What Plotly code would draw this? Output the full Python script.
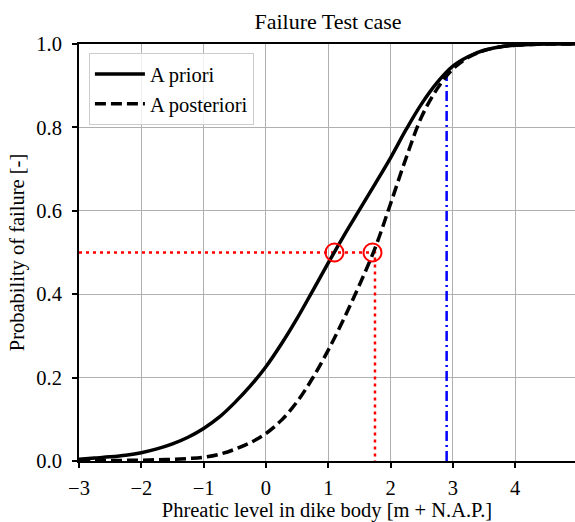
import plotly.graph_objects as go

# Phreatic level [m + N.A.P.]
x_levels = [-3.0, -2.75, -2.5, -2.25, -2.0, -1.75, -1.5, -1.25, -1.0, -0.75, -0.5, -0.25,
            0.0, 0.25, 0.5, 0.75, 1.0, 1.25, 1.5, 1.75, 2.0, 2.25, 2.5, 2.75, 3.0,
            3.25, 3.5, 3.75, 4.0, 4.25, 4.5, 4.75, 5.0]
# A priori probability of failure (solid)
p_priori = [0.004, 0.007, 0.010, 0.014, 0.020, 0.029, 0.041, 0.057, 0.078, 0.105, 0.140, 0.180,
            0.226, 0.281, 0.342, 0.408, 0.475, 0.540, 0.602, 0.664, 0.727, 0.795, 0.857, 0.908, 0.947,
            0.970, 0.985, 0.993, 0.997, 0.999, 1.0, 1.0, 1.0]
# A posteriori probability of failure (dashed)
p_posteriori = [0.0005, 0.0007, 0.001, 0.0015, 0.002, 0.003, 0.004, 0.006, 0.009, 0.016, 0.028, 0.044,
                0.066, 0.098, 0.142, 0.199, 0.266, 0.341, 0.422, 0.510, 0.617, 0.727, 0.826, 0.893, 0.940,
                0.968, 0.984, 0.993, 0.997, 0.999, 1.0, 1.0, 1.0]

# 50% points
p50_level = [1.10, 1.71]
p50_prob = [0.5, 0.5]
# red guide line (horizontal at 0.5 then down)
guide_x = [-3.0, 1.75, 1.75]
guide_y = [0.5, 0.5, 0.0]
# blue dash-dot marker line
blue_x = [2.9, 2.9]
blue_y = [0.0, 0.93]

x_ticks = [-3, -2, -1, 0, 1, 2, 3, 4]
x_ticktext = ["−3", "−2", "−1", "0", "1", "2", "3", "4"]
y_ticks = [0.0, 0.2, 0.4, 0.6, 0.8, 1.0]

FONT = "Liberation Serif, Times New Roman, serif"
FS = 20.5

fig = go.Figure()
fig.add_trace(go.Scatter(x=guide_x, y=guide_y, mode="lines", showlegend=False,
                         line=dict(color="red", width=2.5, dash="3px,4px")))
fig.add_trace(go.Scatter(x=blue_x, y=blue_y, mode="lines", showlegend=False,
                         line=dict(color="blue", width=2.5, dash="10px,4px,2px,4px")))
fig.add_trace(go.Scatter(x=x_levels, y=p_priori, mode="lines", name="A priori",
                         line=dict(color="black", width=3.5, shape="spline", smoothing=1.0)))
fig.add_trace(go.Scatter(x=x_levels, y=p_posteriori, mode="lines", name="A posteriori",
                         line=dict(color="black", width=3.5, dash="11px,5px", shape="spline", smoothing=1.0)))
fig.add_trace(go.Scatter(x=p50_level, y=p50_prob, mode="markers", showlegend=False,
                         marker=dict(symbol="circle-open", size=18, color="red",
                                     line=dict(color="red", width=2))))

fig.update_layout(
    width=575, height=522,
    margin=dict(l=79, r=0, t=44, b=61),
    paper_bgcolor="white", plot_bgcolor="white",
    font=dict(family=FONT, size=FS, color="black"),
    title=dict(text="Failure Test case", x=(79 + 577) / 2 / 575, xanchor="center",
               y=1 - 21 / 522, yanchor="middle", font=dict(size=22, family=FONT)),
    legend=dict(x=0.02, y=0.978, xanchor="left", yanchor="top",
                bgcolor="rgba(255,255,255,0.8)", bordercolor="#cccccc", borderwidth=1,
                font=dict(size=FS, family=FONT), itemwidth=50, tracegroupgap=0),
    hovermode=False,
    showlegend=True,
)
fig.update_xaxes(range=[-3, 4.96], tickvals=x_ticks, ticktext=x_ticktext,
                 showgrid=True, gridcolor="#b0b0b0", gridwidth=1.2,
                 showline=True, linecolor="black", linewidth=2, mirror=True,
                 ticks="outside", ticklen=5, tickwidth=1.5, tickcolor="black",
                 zeroline=False, ticklabelstandoff=2,
                 title=dict(text="Phreatic level in dike body [m + N.A.P.]", standoff=4,
                            font=dict(size=FS, family=FONT)))
fig.update_yaxes(range=[0, 1], tickvals=y_ticks, tickformat=".1f",
                 showgrid=True, gridcolor="#b0b0b0", gridwidth=1.2,
                 showline=True, linecolor="black", linewidth=2,
                 ticks="outside", ticklen=5, tickwidth=1.5, tickcolor="black",
                 zeroline=False, ticklabelstandoff=6,
                 title=dict(text="Probability of failure [-]", standoff=6,
                            font=dict(size=FS, family=FONT)))

fig.write_html("out.html")
